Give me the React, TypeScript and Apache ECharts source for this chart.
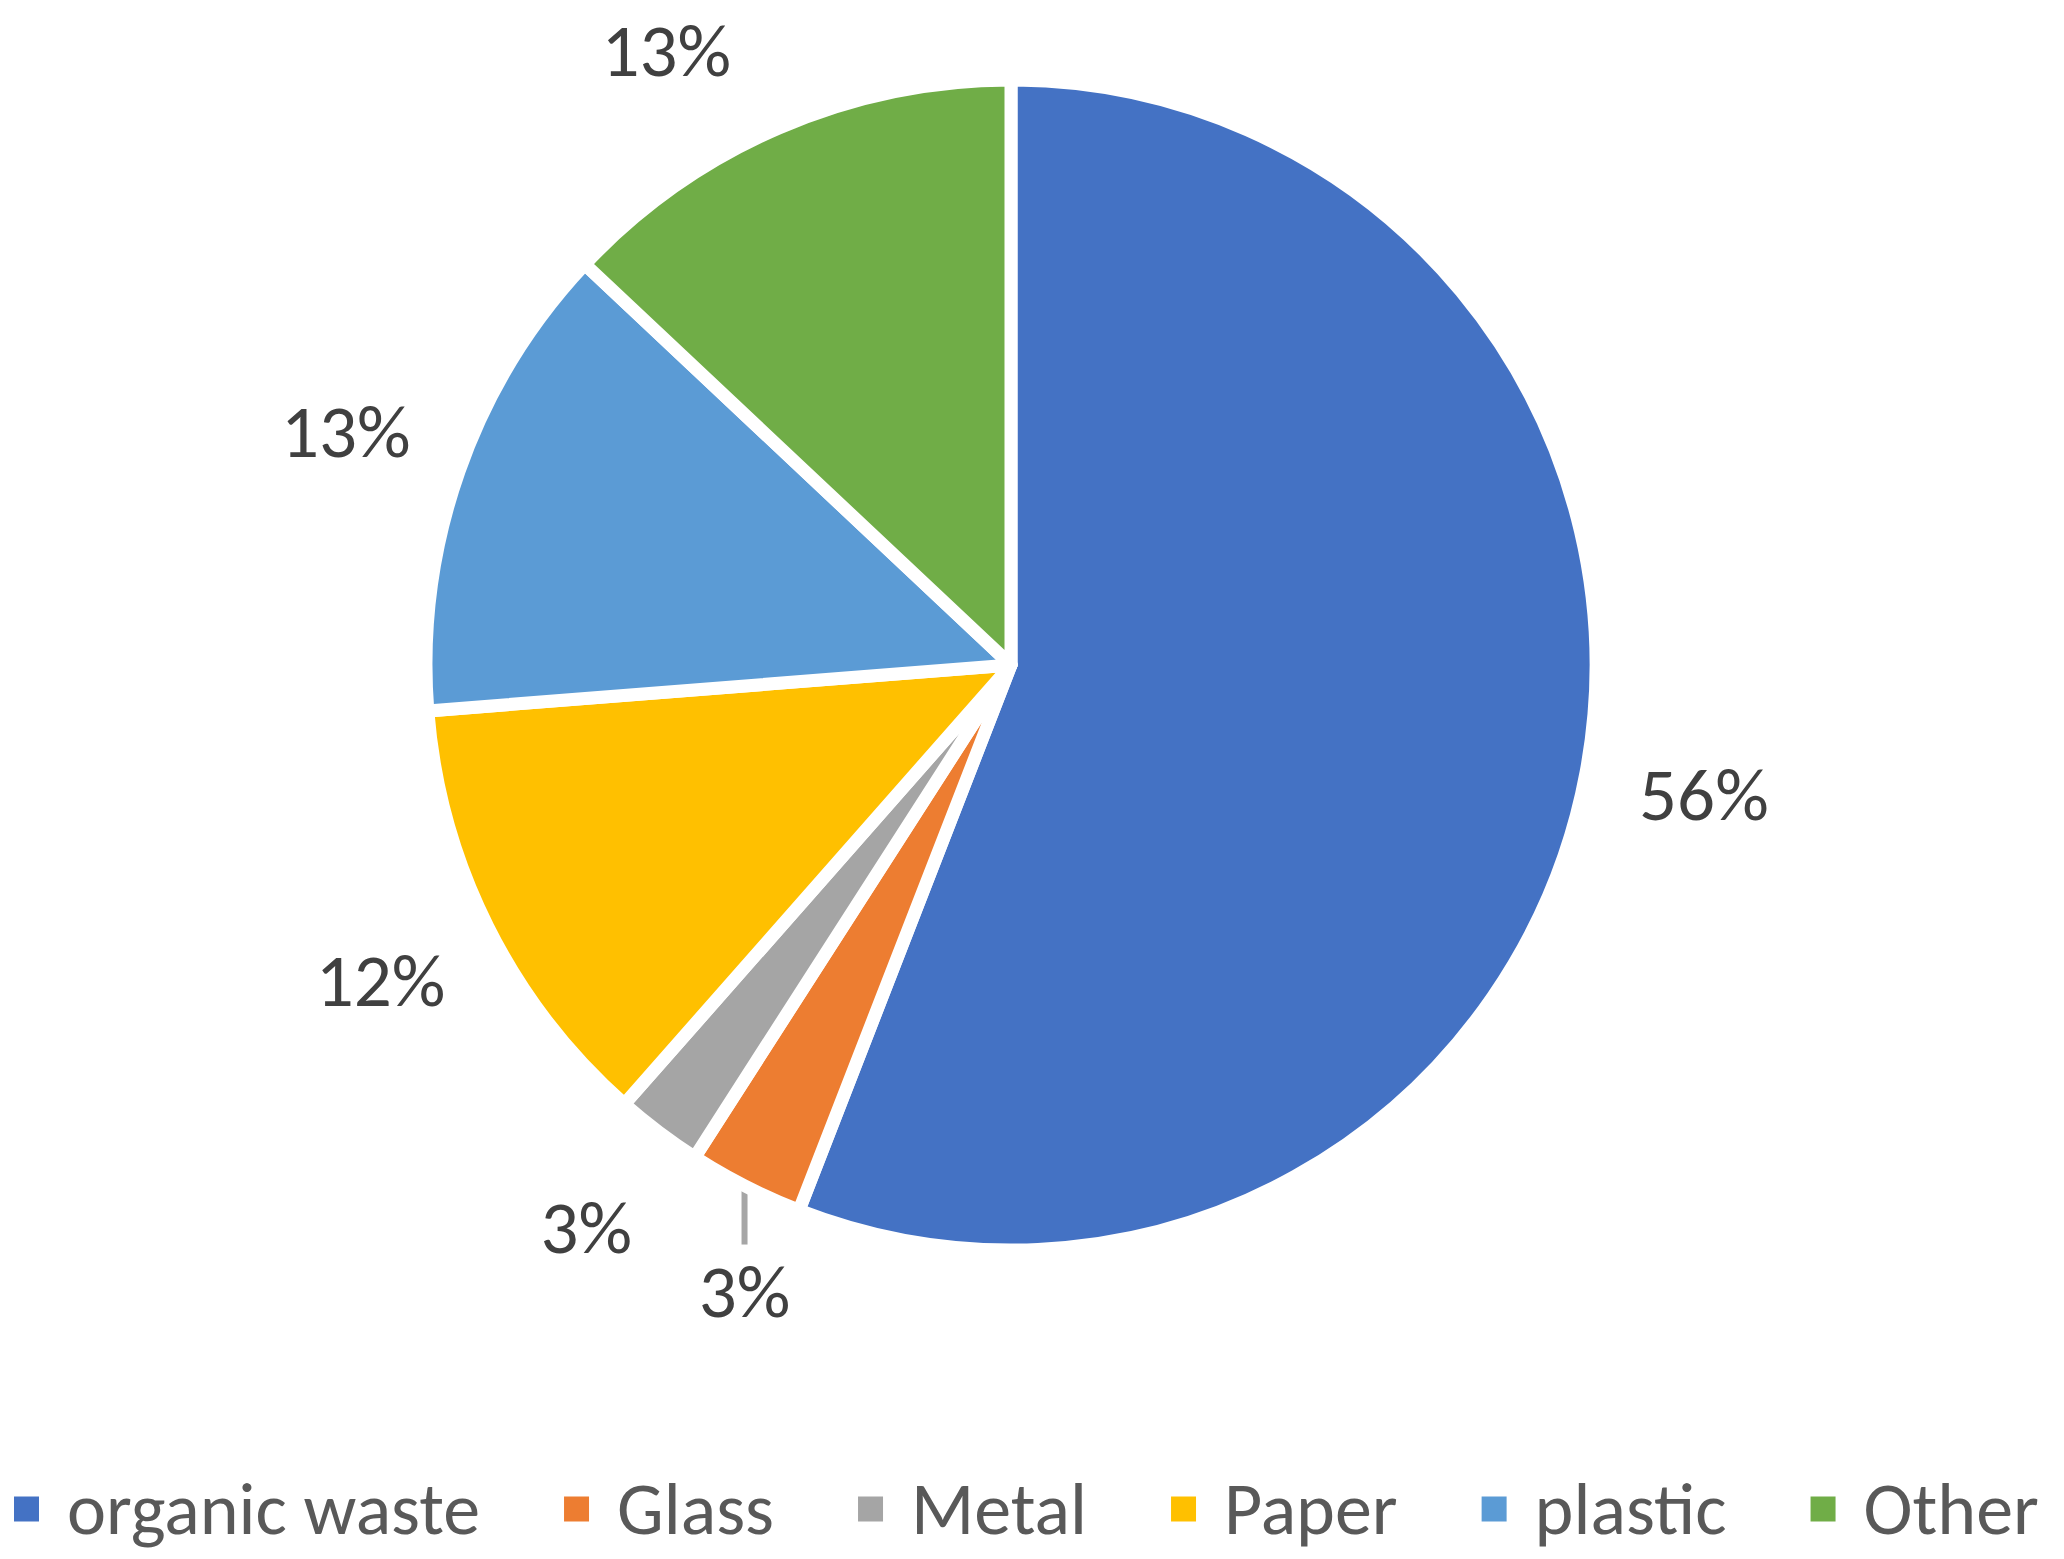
import React, { useEffect, useRef } from "react";
import * as echarts from "echarts";

const categories = ["organic waste", "Glass", "Metal", "Paper", "plastic", "Other"];
const values = [55.9, 3.19, 2.4, 12.26, 13.26, 12.99];
const colors = ["#4472C4", "#ED7D31", "#A5A5A5", "#FFC000", "#5B9BD5", "#70AD47"];

const W = 2064;
const H = 1559;
const CX = 1011;
const CY = 665;
const BORDER = 13;
const RADIUS = 585;
const R_PAINT = RADIUS - BORDER / 2;
const LABEL_R = 705;
const MIN_Y = 50;
const CALLOUT_INDEX = 1;

export default function App() {
  const ref = useRef<HTMLDivElement>(null);

  useEffect(() => {
    document.body.style.margin = "0";
    if (!ref.current) return;
    const chart = echarts.init(ref.current, undefined, { renderer: "svg" });

    const total = values.reduce((a, b) => a + b, 0);
    const mids: number[] = [];
    let acc = 0;
    values.forEach((v) => {
      mids.push(((acc + v / 2) / total) * 360);
      acc += v;
    });

    const font = 'Carlito, "Open Sans", sans-serif';

    chart.setOption({
      animation: false,
      color: colors,
      legend: {
        data: categories,
        left: 12,
        width: 2400,
        top: 1469,
        padding: 0,
        icon: "rect",
        itemWidth: 27,
        itemHeight: 27,
        itemGap: 82,
        selectedMode: false,
        textStyle: {
          fontSize: 74,
          fontFamily: font,
          color: "#595959",
          padding: [0, 0, 0, 22],
          lineHeight: 80,
        },
      },
      series: [
        {
          type: "pie",
          center: [CX, CY],
          radius: RADIUS,
          startAngle: 90,
          clockwise: true,
          avoidLabelOverlap: false,
          percentPrecision: 0,
          emphasis: { disabled: true },
          itemStyle: { borderColor: "#ffffff", borderWidth: BORDER },
          label: {
            show: true,
            position: "outside",
            alignTo: "none",
            formatter: "{d}%",
            fontSize: 75,
            fontFamily: font,
            color: "#404040",
          },
          labelLine: { show: false },
          labelLayout: (p: any) => {
            const i = p.dataIndex;
            const th = (mids[i] * Math.PI) / 180;
            const dx = Math.sin(th);
            const dy = -Math.cos(th);
            if (i === CALLOUT_INDEX) {
              const ex = CX + R_PAINT * dx;
              const ey = CY + R_PAINT * dy;
              const lx = ex - 4;
              return {
                x: lx,
                y: ey + 111,
                align: "center",
                verticalAlign: "middle",
                labelLinePoints: [
                  [lx, ey + 5],
                  [lx, ey + 64],
                ],
              };
            }
            let x = CX + LABEL_R * dx;
            let y = CY + LABEL_R * dy;
            if (y < MIN_Y) {
              y = MIN_Y;
              x = CX + Math.sign(dx) * Math.sqrt(LABEL_R * LABEL_R - (CY - MIN_Y) * (CY - MIN_Y));
            }
            return { x, y, align: "center", verticalAlign: "middle" };
          },
          data: categories.map((name, i) => ({
            name,
            value: values[i],
            labelLine:
              i === CALLOUT_INDEX
                ? { show: true, lineStyle: { color: "#A6A6A6", width: 6 } }
                : { show: false },
          })),
        },
      ],
    });

    return () => chart.dispose();
  }, []);

  return <div ref={ref} style={{ width: W, height: H }} />;
}
